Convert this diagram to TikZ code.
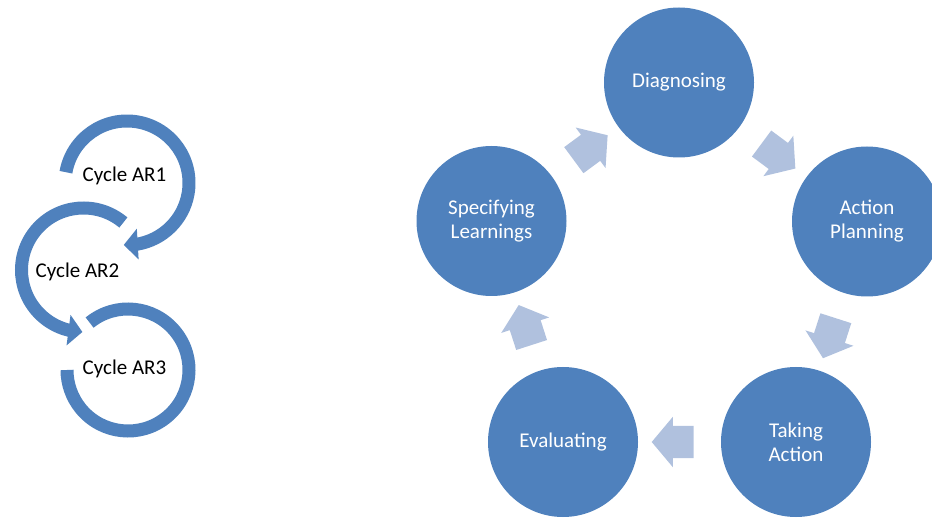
\documentclass[tikz,border=0pt]{standalone}
\usepackage{fontspec}
\setmainfont{Carlito}
\usepackage{tikz}
\usetikzlibrary{shapes.arrows}
\usetikzlibrary{calc}
\usetikzlibrary{arrows.meta}
\usetikzlibrary{bending}
\definecolor{ringblue}{HTML}{4F81BD}
\definecolor{paleblue}{HTML}{B0C1DE}
\tikzset{stage/.style={circle,fill=ringblue,minimum size=150pt,inner sep=0pt,text=white,align=center,font=\fontsize{21}{24}\selectfont},
ring/.style={draw=ringblue,line width=13pt},
ringtip/.style={-{Triangle[width=30pt,length=14pt]}},
flow/.style={single arrow,fill=paleblue,minimum height=42pt,inner xsep=0pt,inner ysep=16pt,single arrow head extend=9pt,single arrow tip angle=100},
cyclelabel/.style={anchor=base,font=\fontsize{21}{24}\selectfont}}

\begin{document}
\begin{tikzpicture}[x=1pt,y=1pt]
\useasboundingbox (0,0) rectangle (932,517);

% the three AR cycles on the left
\coordinate (c1) at (127,334);
\coordinate (c2) at (83.5,247);
\coordinate (c3) at (128,147);
\draw[ring,ringtip] ([shift={(170:62)}]c1) arc (170:-93:62);
\draw[ring,ringtip] ([shift={(50:62)}]c2) arc (50:269:62);
\draw[ring] ([shift={(129:61)}]c3) arc (129:-180:61);
\node[cyclelabel] (ar1) at (124.5,335) {Cycle AR1};
\node[cyclelabel] (ar2) at (77.5,239) {Cycle AR2};
\node[cyclelabel] (ar3) at (124.5,142) {Cycle AR3};

% the five stages
\node[stage] (diag) at (679,434.5) {Diagnosing};
\node[stage] (plan) at (867,295.5) {Action\\Planning};
\node[stage] (act) at (796,75) {Taking\\Action};
\node[stage] (eval) at (563,75) {Evaluating};
\node[stage] (spec) at (491.5,296) {Specifying\\Learnings};

% block arrows half way between stages
\node[flow,rotate=-36.5] (f1) at ($(diag)!0.5!(plan)$) {};
\node[flow,rotate=-107.8] (f2) at ($(plan)!0.5!(act)$) {};
\node[flow,rotate=180] (f3) at ($(act)!0.5!(eval)$) {};
\node[flow,rotate=107.9] (f4) at ($(eval)!0.5!(spec)$) {};
\node[flow,rotate=36.4] (f5) at ($(spec)!0.5!(diag)$) {};

\end{tikzpicture}
\end{document}
